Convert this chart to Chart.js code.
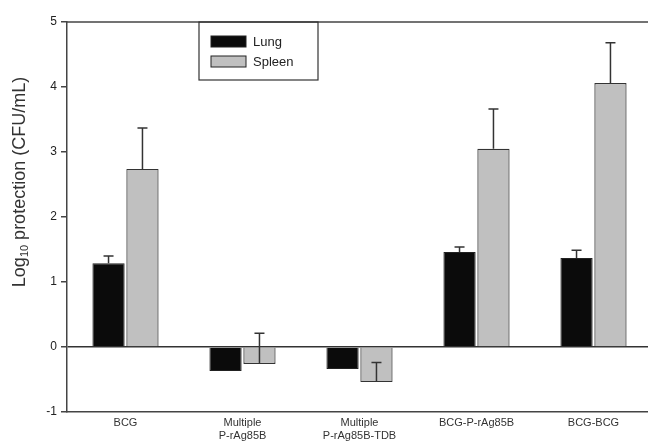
<!DOCTYPE html>
<html>
<head>
<meta charset="utf-8">
<script src="https://cdn.jsdelivr.net/npm/chart.js@4/dist/chart.umd.min.js"></script>
<style>
  html, body { margin: 0; padding: 0; background: #fff; overflow: hidden; }
  #wrap { width: 656px; height: 444px; }
</style>
</head>
<body>
<div id="wrap"><canvas id="chart"></canvas></div>
<script>
const categories = ["BCG", ["Multiple", "P-rAg85B"], ["Multiple", "P-rAg85B-TDB"], "BCG-P-rAg85B", "BCG-BCG"];
const lung = [1.29, -0.37, -0.34, 1.46, 1.37];
const lungErr = [0.11, 0, 0, 0.08, 0.12];
const spleen = [2.74, -0.26, -0.54, 3.05, 4.06];
const spleenErr = [0.63, 0.47, 0.30, 0.61, 0.62];
const yTicks = [-1, 0, 1, 2, 3, 4, 5];

const FONT = "'Liberation Sans', Arial, sans-serif";

// error bars, drawn upward from the bar end
const errorBars = {
  id: "errorBars",
  afterDatasetsDraw(chart) {
    const ctx = chart.ctx;
    const y = chart.scales.y;
    const errs = [lungErr, spleenErr];
    ctx.save();
    ctx.strokeStyle = "#333";
    ctx.lineWidth = 1.5;
    chart.data.datasets.forEach((ds, i) => {
      chart.getDatasetMeta(i).data.forEach((bar, j) => {
        const e = errs[i][j];
        if (!e) return;
        const y0 = y.getPixelForValue(ds.data[j]);
        const y1 = y.getPixelForValue(ds.data[j] + e);
        ctx.beginPath();
        ctx.moveTo(bar.x, y0);
        ctx.lineTo(bar.x, y1);
        ctx.moveTo(bar.x - 5, y1);
        ctx.lineTo(bar.x + 5, y1);
        ctx.stroke();
      });
    });
    ctx.restore();
  }
};

// frame top line, y title and boxed legend
const extras = {
  id: "extras",
  afterDraw(chart) {
    const ctx = chart.ctx;
    const a = chart.chartArea;
    ctx.save();
    ctx.strokeStyle = "#444";
    ctx.lineWidth = 1.5;
    ctx.beginPath();
    ctx.moveTo(a.left, a.top);
    ctx.lineTo(a.right, a.top);
    ctx.stroke();

    // y title with subscript
    ctx.translate(20, 182);
    ctx.rotate(-Math.PI / 2);
    ctx.fillStyle = "#333";
    ctx.textBaseline = "middle";
    const big = "18px " + FONT, small = "11px " + FONT;
    const parts = [["Log", big, 0], ["10", small, 5], [" protection (CFU/mL)", big, 0]];
    let w = 0;
    parts.forEach(p => { ctx.font = p[1]; w += ctx.measureText(p[0]).width; });
    let x = -w / 2;
    parts.forEach(p => {
      ctx.font = p[1];
      ctx.fillText(p[0], x, p[2]);
      x += ctx.measureText(p[0]).width;
    });
    ctx.restore();

    // legend
    ctx.save();
    ctx.strokeStyle = "#333";
    ctx.lineWidth = 1.2;
    ctx.strokeRect(199, a.top, 119, 58);
    ctx.font = "13px " + FONT;
    ctx.textBaseline = "middle";
    chart.data.datasets.forEach((ds, i) => {
      const yy = 36 + i * 20;
      ctx.fillStyle = ds.backgroundColor;
      ctx.fillRect(211, yy, 35, 11);
      ctx.strokeStyle = "#222";
      ctx.lineWidth = 1;
      ctx.strokeRect(211, yy, 35, 11);
      ctx.fillStyle = "#222";
      ctx.fillText(ds.label, 253, yy + 6);
    });
    ctx.restore();
  }
};

new Chart(document.getElementById("chart"), {
  type: "bar",
  data: {
    labels: categories,
    datasets: [
      { label: "Lung", data: lung, backgroundColor: "#0b0b0b", borderColor: "#222", borderWidth: 1 },
      { label: "Spleen", data: spleen, backgroundColor: "#c0c0c0", borderColor: "#333", borderWidth: 1.2 }
    ]
  },
  options: {
    responsive: true,
    maintainAspectRatio: false,
    animation: false,
    categoryPercentage: 0.58,
    barPercentage: 0.95,
    layout: { padding: { top: 22, right: 4, left: 0, bottom: 0 } },
    plugins: { legend: { display: false }, tooltip: { enabled: false } },
    scales: {
      x: {
        offset: true,
        afterFit: s => { s.height = 32; },
        grid: { display: false, drawTicks: false },
        border: { display: true, color: "#444", width: 1.5 },
        ticks: { color: "#333", font: { family: FONT, size: 11, lineHeight: 1.15 }, padding: 5, maxRotation: 0, autoSkip: false }
      },
      y: {
        min: -1,
        max: 5,
        afterBuildTicks: s => { s.ticks = yTicks.map(v => ({ value: v })); },
        afterFit: s => { s.width = 67; },
        grid: {
          color: c => (c.tick && c.tick.value === 0 ? "#333" : "rgba(0,0,0,0)"),
          lineWidth: 1.5,
          drawTicks: true,
          tickLength: 6,
          tickColor: "#444"
        },
        border: { display: true, color: "#444", width: 1.5 },
        ticks: { color: "#222", font: { family: FONT, size: 12 }, padding: 4 }
      }
    }
  },
  plugins: [errorBars, extras]
});
</script>
</body>
</html>
